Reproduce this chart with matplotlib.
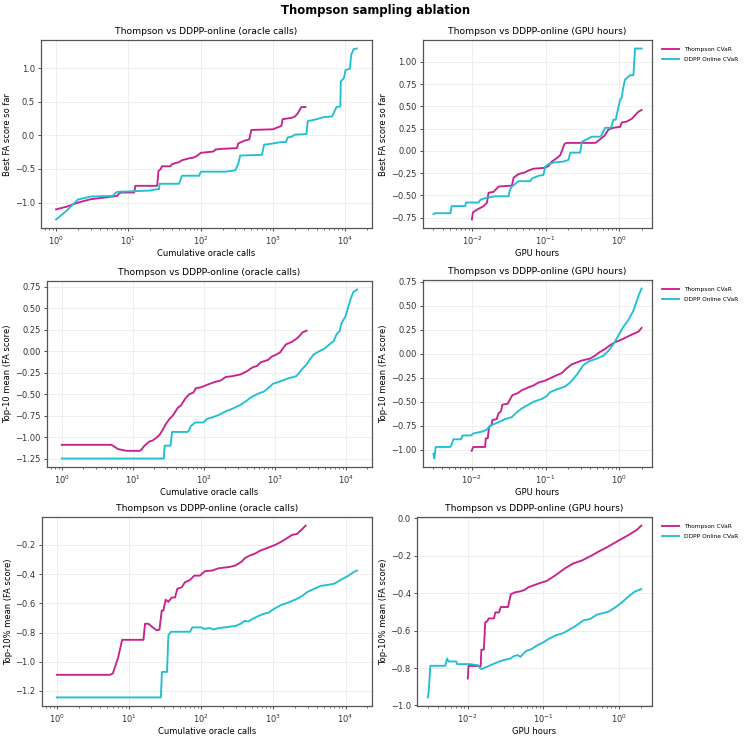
import numpy as np
import matplotlib
matplotlib.use('Agg')
import matplotlib.pyplot as plt

# Thompson CVaR / DDPP Online CVaR
# --- best score so far vs oracle calls
th_best_calls = [1, 1.4, 2, 3, 5, 7, 7.5, 8, 12, 12.5, 25, 26, 28, 29, 38, 40, 45, 50, 55, 70, 80, 90,
                 100, 150, 160, 200, 316, 330, 400, 468, 500, 1000, 1100, 1300, 1350, 1800, 2000, 2200,
                 2450, 2800]
th_best_calls_y = [-1.10, -1.06, -1.0, -0.95, -0.92, -0.90, -0.86, -0.85, -0.85, -0.75, -0.75, -0.53,
                   -0.50, -0.46, -0.46, -0.43, -0.41, -0.40, -0.37, -0.34, -0.33, -0.30, -0.26, -0.24,
                   -0.21, -0.20, -0.19, -0.12, -0.08, -0.06, 0.08, 0.09, 0.11, 0.14, 0.24, 0.26, 0.28,
                   0.33, 0.42, 0.42]
dd_best_calls = [1, 1.4, 2, 3, 6, 7, 12, 20, 25, 26.5, 27, 50, 55, 95, 100, 220, 300, 330, 350, 700,
                 750, 1000, 1300, 1500, 1600, 1800, 2000, 2900, 3000, 4000, 5000, 6500, 7000, 7500,
                 8500, 8600, 9500, 10000, 11500, 12000, 13000, 14400]
dd_best_calls_y = [-1.25, -1.12, -0.955, -0.91, -0.90, -0.84, -0.83, -0.82, -0.80, -0.80, -0.72, -0.72,
                   -0.60, -0.60, -0.54, -0.54, -0.52, -0.42, -0.30, -0.29, -0.14, -0.12, -0.10, -0.10,
                   -0.03, -0.02, 0.01, 0.02, 0.21, 0.24, 0.27, 0.28, 0.35, 0.42, 0.43, 0.80, 0.85, 0.97,
                   0.99, 1.20, 1.28, 1.29]

# --- best score so far vs GPU hours
th_best_gpu = [0.0100, 0.0103, 0.0117, 0.0144, 0.0160, 0.0168, 0.0196, 0.0207, 0.023, 0.0348, 0.0367,
               0.0428, 0.0527, 0.0585, 0.068, 0.098, 0.109, 0.121, 0.142, 0.157, 0.166, 0.18, 0.194,
               0.468, 0.493, 0.626, 0.64, 0.71, 0.83, 1.02, 1.08, 1.26, 1.47, 1.63, 1.81, 2.0]
th_best_gpu_y = [-0.77, -0.69, -0.66, -0.62, -0.58, -0.47, -0.46, -0.44, -0.40, -0.39, -0.30, -0.26,
                 -0.24, -0.22, -0.20, -0.19, -0.17, -0.12, -0.08, -0.05, 0.00, 0.08, 0.09, 0.09, 0.10,
                 0.17, 0.18, 0.24, 0.26, 0.27, 0.32, 0.33, 0.36, 0.40, 0.44, 0.46]
dd_best_gpu = [0.0030, 0.00318, 0.0051, 0.0053, 0.0081, 0.0083, 0.0123, 0.013, 0.0152, 0.0207, 0.0314,
               0.033, 0.0348, 0.0387, 0.0428, 0.0617, 0.065, 0.080, 0.0935, 0.098, 0.109, 0.128, 0.174,
               0.204, 0.215, 0.293, 0.309, 0.343, 0.422, 0.547, 0.576, 0.64, 0.77, 0.83, 0.89, 1.02,
               1.08, 1.11, 1.19, 1.39, 1.55, 1.63, 2.0]
dd_best_gpu_y = [-0.71, -0.70, -0.70, -0.62, -0.62, -0.58, -0.58, -0.55, -0.53, -0.51, -0.51, -0.43,
                 -0.40, -0.37, -0.34, -0.34, -0.31, -0.28, -0.27, -0.18, -0.15, -0.13, -0.12, -0.10,
                 -0.02, -0.02, 0.10, 0.12, 0.16, 0.16, 0.18, 0.26, 0.26, 0.35, 0.35, 0.57, 0.60, 0.68,
                 0.80, 0.85, 0.85, 1.15, 1.15]

# --- top-10 mean vs oracle calls
th_top10_calls = [1, 5.0, 6.2, 8.1, 12.5, 13.1, 14.6, 17.2, 19, 22, 24, 27.9, 28.5, 32.7, 36.5, 42.8,
                  47.7, 54.8, 62.4, 71.7, 77, 90.8, 112, 140, 173, 203, 252, 329, 408, 479, 563, 627,
                  802, 912, 1038, 1194, 1259, 1432, 1738, 2042, 2224, 2449, 2800]
th_top10_calls_y = [-1.09, -1.09, -1.14, -1.16, -1.16, -1.15, -1.10, -1.05, -1.04, -1.00, -0.97, -0.88,
                    -0.86, -0.79, -0.75, -0.66, -0.63, -0.55, -0.50, -0.48, -0.43, -0.42, -0.39, -0.36,
                    -0.34, -0.30, -0.29, -0.27, -0.23, -0.19, -0.17, -0.13, -0.10, -0.06, -0.04, -0.01,
                    0.02, 0.08, 0.11, 0.15, 0.18, 0.22, 0.24]
dd_top10_calls = [1, 27.3, 28, 34, 35.7, 59, 62, 65.8, 75.7, 98.9, 109, 132, 164, 203, 252, 319, 395,
                  454, 594, 698, 777, 933, 1194, 1480, 2000, 2400, 2820, 3070, 3490, 4190, 4970, 5660,
                  6720, 7400, 8070, 8700, 9890, 10780, 11750, 12700, 14400]
dd_top10_calls_y = [-1.25, -1.25, -1.10, -1.10, -0.94, -0.94, -0.92, -0.87, -0.83, -0.83, -0.79, -0.77,
                    -0.74, -0.70, -0.67, -0.63, -0.58, -0.54, -0.49, -0.47, -0.44, -0.38, -0.35, -0.32,
                    -0.29, -0.21, -0.15, -0.10, -0.04, 0.00, 0.03, 0.07, 0.12, 0.20, 0.23, 0.33, 0.41,
                    0.52, 0.62, 0.69, 0.72]

# --- top-10 mean vs GPU hours
th_top10_gpu = [0.0100, 0.0105, 0.0152, 0.0155, 0.0165, 0.0172, 0.0187, 0.019, 0.0218, 0.023, 0.0249,
                0.026, 0.0307, 0.0356, 0.042, 0.0475, 0.0585, 0.0684, 0.080, 0.0984, 0.135, 0.166,
                0.194, 0.226, 0.309, 0.40, 0.468, 0.547, 0.64, 0.748, 0.874, 1.08, 1.47, 1.81, 2.0]
th_top10_gpu_y = [-1.01, -0.97, -0.97, -0.88, -0.88, -0.76, -0.74, -0.69, -0.68, -0.62, -0.60, -0.53,
                  -0.52, -0.43, -0.41, -0.38, -0.35, -0.33, -0.30, -0.28, -0.23, -0.20, -0.15, -0.11,
                  -0.07, -0.05, -0.02, 0.02, 0.05, 0.09, 0.12, 0.15, 0.20, 0.23, 0.27]
dd_top10_gpu = [0.00303, 0.00312, 0.00325, 0.0051, 0.0053, 0.00565, 0.00718, 0.00748, 0.0098, 0.0105,
                0.0137, 0.016, 0.0177, 0.0218, 0.0283, 0.0348, 0.0407, 0.0475, 0.0585, 0.0684, 0.0887,
                0.104, 0.115, 0.142, 0.184, 0.215, 0.264, 0.325, 0.38, 0.493, 0.607, 0.71, 0.83, 0.97,
                1.13, 1.32, 1.55, 1.72, 1.85, 2.0]
dd_top10_gpu_y = [-1.04, -1.09, -0.97, -0.97, -0.95, -0.89, -0.89, -0.85, -0.85, -0.83, -0.81, -0.79,
                  -0.75, -0.72, -0.68, -0.66, -0.61, -0.57, -0.53, -0.50, -0.47, -0.44, -0.40, -0.37,
                  -0.34, -0.30, -0.22, -0.12, -0.08, -0.05, -0.02, 0.03, 0.10, 0.19, 0.28, 0.35, 0.45,
                  0.55, 0.62, 0.68]

# --- top-10% mean vs oracle calls
th_pct_calls = [1, 5.46, 5.95, 7.05, 8.0, 15.8, 16.6, 18.5, 20.6, 24.1, 26.3, 28.3, 29.8, 32.1, 35, 38.9,
                43.2, 46.6, 53.5, 59.5, 69.7, 80, 95.9, 112, 142, 172, 249, 298, 361, 402, 481, 552, 648,
                775, 938, 1100, 1290, 1513, 1812, 2124, 2438, 2800]
th_pct_calls_y = [-1.09, -1.09, -1.08, -0.97, -0.85, -0.85, -0.74, -0.74, -0.76, -0.785, -0.78, -0.65,
                  -0.65, -0.575, -0.59, -0.56, -0.56, -0.50, -0.49, -0.455, -0.44, -0.41, -0.41, -0.38,
                  -0.375, -0.36, -0.35, -0.34, -0.315, -0.29, -0.27, -0.26, -0.24, -0.225, -0.21, -0.195,
                  -0.177, -0.156, -0.131, -0.124, -0.097, -0.067]
dd_pct_calls = [1, 27.5, 28.5, 33.5, 35, 38, 70, 75, 100, 110, 130, 150, 170, 210, 300, 350, 400, 450,
                500, 600, 750, 850, 1000, 1300, 1600, 2000, 2500, 3000, 3700, 4500, 5500, 7000, 8500,
                11000, 13000, 14400]
dd_pct_calls_y = [-1.245, -1.245, -1.07, -1.07, -0.82, -0.795, -0.795, -0.765, -0.765, -0.775, -0.77,
                  -0.78, -0.77, -0.765, -0.755, -0.74, -0.72, -0.725, -0.71, -0.69, -0.67, -0.665, -0.64,
                  -0.61, -0.595, -0.575, -0.55, -0.52, -0.50, -0.48, -0.475, -0.465, -0.44, -0.41,
                  -0.385, -0.375]

# --- top-10% mean vs GPU hours
th_pct_gpu = [0.0100, 0.0102, 0.0148, 0.0151, 0.0163, 0.017, 0.0181, 0.0189, 0.0222, 0.0231, 0.0259,
              0.0273, 0.0341, 0.0371, 0.0419, 0.0514, 0.058, 0.063, 0.0759, 0.0903, 0.111, 0.136, 0.158,
              0.194, 0.251, 0.324, 0.419, 0.541, 0.736, 1.0, 1.36, 1.75, 2.0]
th_pct_gpu_y = [-0.856, -0.788, -0.79, -0.702, -0.702, -0.556, -0.55, -0.535, -0.535, -0.503, -0.503,
                -0.474, -0.474, -0.406, -0.396, -0.389, -0.38, -0.369, -0.357, -0.346, -0.335, -0.312,
                -0.294, -0.267, -0.241, -0.226, -0.203, -0.178, -0.15, -0.119, -0.089, -0.061, -0.039]
dd_pct_gpu = [0.00293, 0.00302, 0.00318, 0.00499, 0.00514, 0.0053, 0.00552, 0.00699, 0.00721, 0.0105,
              0.0136, 0.0143, 0.0151, 0.0163, 0.0185, 0.0216, 0.0251, 0.0308, 0.0371, 0.0398, 0.0455,
              0.0499, 0.0541, 0.06, 0.0699, 0.0815, 0.1, 0.117, 0.143, 0.185, 0.239, 0.293, 0.341,
              0.419, 0.514, 0.631, 0.736, 0.903, 1.107, 1.36, 1.63, 2.0]
dd_pct_gpu_y = [-0.957, -0.93, -0.788, -0.788, -0.77, -0.749, -0.765, -0.765, -0.779, -0.779, -0.785,
                -0.797, -0.806, -0.80, -0.791, -0.779, -0.768, -0.756, -0.749, -0.738, -0.731, -0.74,
                -0.725, -0.708, -0.699, -0.681, -0.663, -0.645, -0.627, -0.613, -0.588, -0.565, -0.545,
                -0.538, -0.515, -0.506, -0.499, -0.476, -0.449, -0.417, -0.392, -0.378]

TH_COLOR = '#c9218d'
DD_COLOR = '#1fc0d4'

panels = [
  # (th x, th y, dd x, dd y, x label, y label, title, legend)
  (th_best_calls, th_best_calls_y, dd_best_calls, dd_best_calls_y,
   'Cumulative oracle calls', 'Best FA score so far', 'Thompson vs DDPP-online (oracle calls)', False),
  (th_best_gpu, th_best_gpu_y, dd_best_gpu, dd_best_gpu_y,
   'GPU hours', 'Best FA score so far', 'Thompson vs DDPP-online (GPU hours)', True),
  (th_top10_calls, th_top10_calls_y, dd_top10_calls, dd_top10_calls_y,
   'Cumulative oracle calls', 'Top-10 mean (FA score)', 'Thompson vs DDPP-online (oracle calls)', False),
  (th_top10_gpu, th_top10_gpu_y, dd_top10_gpu, dd_top10_gpu_y,
   'GPU hours', 'Top-10 mean (FA score)', 'Thompson vs DDPP-online (GPU hours)', True),
  (th_pct_calls, th_pct_calls_y, dd_pct_calls, dd_pct_calls_y,
   'Cumulative oracle calls', 'Top-10% mean (FA score)', 'Thompson vs DDPP-online (oracle calls)', False),
  (th_pct_gpu, th_pct_gpu_y, dd_pct_gpu, dd_pct_gpu_y,
   'GPU hours', 'Top-10% mean (FA score)', 'Thompson vs DDPP-online (GPU hours)', True),
]

W, H = 751, 737
# axes boxes in pixels: left, top, right, bottom
boxes = [
  (41, 40, 372, 228), (423, 40, 652, 228),
  (47, 281, 372, 467), (423, 280, 652, 467),
  (42, 517, 372, 706), (417, 517, 652, 706),
]

fig = plt.figure(figsize=(W / 100, H / 100), dpi=100)

for (l, t, r, b), p in zip(boxes, panels):
  tx, ty, dx, dy, xl, yl, title, leg = p
  ax = fig.add_axes([l / W, 1 - b / H, (r - l) / W, (b - t) / H])
  ax.plot(tx, ty, color=TH_COLOR, lw=1.35, label='Thompson CVaR')
  ax.plot(dx, dy, color=DD_COLOR, lw=1.35, label='DDPP Online CVaR')
  ax.set_xscale('log')
  ax.grid(True, which='major', color='#e8e8e8', lw=0.5)
  ax.set_title(title, fontsize=6.6, pad=4)
  ax.set_xlabel(xl, fontsize=6, labelpad=1.5)
  ax.set_ylabel(yl, fontsize=6, labelpad=2)
  ax.tick_params(labelsize=6, width=0.6, length=2.5, pad=2, colors='#333333')
  ax.tick_params(which='minor', width=0.5, length=1.5, colors='#333333')
  for s in ax.spines.values():
    s.set_color('#555555')
    s.set_linewidth(0.9)
  if leg:
    # legend sits just right of the axes, without a frame
    ax.legend(loc='upper left', bbox_to_anchor=(1 + 8 / (r - l), 1 - 5 / (b - t)), frameon=False,
              fontsize=4.2, handlelength=2.8, handletextpad=0.85, labelspacing=0.7, borderaxespad=0)

fig.suptitle('Thompson sampling ablation', fontsize=8.4, fontweight='bold', y=0.995)

plt.savefig('out.png', dpi=100)
